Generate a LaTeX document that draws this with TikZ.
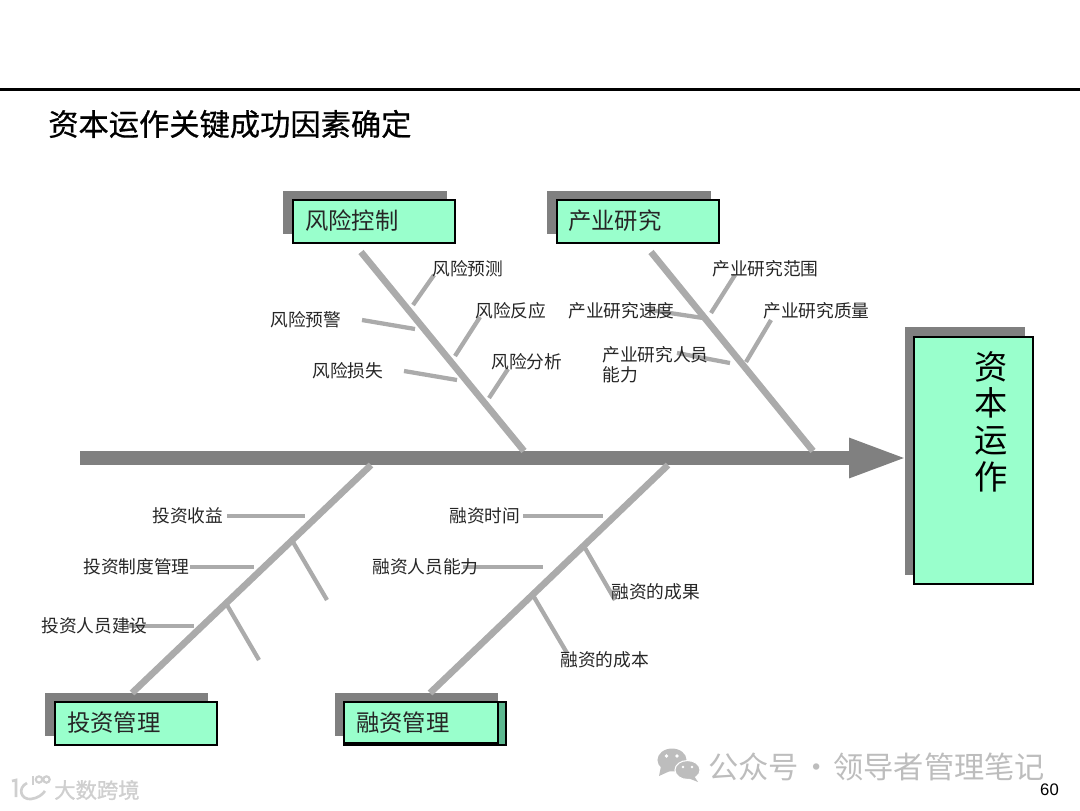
\documentclass[tikz,border=0pt]{standalone}
\usepackage{fontspec}
\setmainfont{Noto Sans CJK SC}
\newfontfamily\numfont{Liberation Sans}
\newfontfamily\titlefont[FakeBold=0.6]{Noto Sans CJK SC}
\newfontfamily\brandfont[FakeBold=1.2]{Noto Sans CJK SC}
\newcommand\tightskip{\setlength{\lineskiplimit}{-20pt}}
\usetikzlibrary{arrows.meta}
\definecolor{boxgreen}{HTML}{99FFCC}
\definecolor{stripgreen}{HTML}{5DB890}
\definecolor{bonegray}{HTML}{ABABAB}
\definecolor{spinegray}{HTML}{808080}
\definecolor{markgray}{HTML}{BDBDBD}
\definecolor{brandgray}{HTML}{CFCFCF}
\tikzset{
  boxshadow/.style={fill=spinegray, inner sep=0pt, outer sep=0pt},
  titlebox/.style={draw=black, line width=0.8pt, fill=boxgreen, inner sep=0pt, outer sep=0pt},
  bone/.style={draw=bonegray, line width=5pt},
  twig/.style={draw=bonegray, line width=3.2pt},
  cause/.style={font=\fontsize{13.3}{15}\selectfont, execute at begin node=\tightskip, inner sep=0pt, text=black!85},
  boxtext/.style={font=\fontsize{17.5}{20}\selectfont, inner sep=0pt, text=black!85},
  marktext/.style={text=markgray, inner sep=0pt},
}
\begin{document}
\begin{tikzpicture}[x=0.75pt, y=-0.75pt]
\useasboundingbox (0,0) rectangle (1080,810);
% header
\coordinate (ruleL) at (0,89.5);
\coordinate (ruleR) at (1080,89.5);
\draw[line width=1.7pt] (ruleL) -- (ruleR);
\node[anchor=west, inner sep=0pt, font=\fontsize{22.7}{26}\titlefont] (title) at (48,124) {资本运作关键成功因素确定};
% head of the fish
\node[boxshadow, minimum width=90pt, minimum height=186pt] (capshadow) at (965,451) {};
\node[titlebox, minimum width=89.25pt, minimum height=185.25pt] (capital) at (973.5,460.5) {};
\node[font=\fontsize{25}{27.5}\selectfont, execute at begin node=\tightskip, align=center, inner sep=0pt, anchor=north] (captext) at (991,351) {资\\本\\运\\作};
% spine
\coordinate (spineL) at (80,458);
\draw[spinegray, line width=10.5pt, -{Triangle[length=44pt, width=27pt]}] (spineL) -- ([xshift=2pt]capshadow.west |- spineL);
% category boxes
\node[boxshadow, minimum width=123pt, minimum height=32.25pt] (riskshadow) at (365,212.5) {};
\node[titlebox, minimum width=121.5pt, minimum height=32.25pt] (risk) at (374,221.5) {};
\node[boxtext, anchor=west] (risktext) at (305,221) {风险控制};
\node[boxshadow, minimum width=123pt, minimum height=32.25pt] (indshadow) at (629,212.5) {};
\node[titlebox, minimum width=121.5pt, minimum height=32.25pt] (ind) at (638,221.5) {};
\node[boxtext, anchor=west] (indtext) at (568,221) {产业研究};
\node[boxshadow, minimum width=122.25pt, minimum height=32.25pt] (invshadow) at (126.5,714.5) {};
\node[titlebox, minimum width=121.5pt, minimum height=32.25pt] (inv) at (136,723.5) {};
\node[boxtext, anchor=west] (invtext) at (67,723) {投资管理};
\node[boxshadow, minimum width=122.25pt, minimum height=32.25pt] (finshadow) at (416.5,714.5) {};
\node[titlebox, fill=stripgreen, minimum width=121.5pt, minimum height=32.25pt] (finback) at (425,723.5) {};
\node[titlebox, minimum width=115.5pt, minimum height=30.75pt] (fin) at (421,722.5) {};
\node[boxtext, anchor=west] (fintext) at (356,723) {融资管理};
% main bones
\coordinate (riskA) at (361,252);
\coordinate (riskB) at (524,451);
\coordinate (indA) at (651,252);
\coordinate (indB) at (813,451);
\coordinate (invA) at (371,465);
\coordinate (invB) at (132,693);
\coordinate (finA) at (668,465);
\coordinate (finB) at (430,693);
\foreach \a/\b in {riskA/riskB, indA/indB, invA/invB, finA/finB}
  \draw[bone] (\a) -- (\b);
% twig ends
\coordinate (r1a) at (413,305); \coordinate (r1b) at (434,275);
\coordinate (r2a) at (362,320); \coordinate (r2b) at (415,329);
\coordinate (r3a) at (455,356); \coordinate (r3b) at (480,317);
\coordinate (r4a) at (404,371); \coordinate (r4b) at (457,380);
\coordinate (r5a) at (489,398); \coordinate (r5b) at (508,369);
\coordinate (i1a) at (711,313); \coordinate (i1b) at (735,275);
\coordinate (i2a) at (650,310); \coordinate (i2b) at (703,318);
\coordinate (i3a) at (746,362); \coordinate (i3b) at (771,320);
\coordinate (i4a) at (677,353); \coordinate (i4b) at (730,363);
\coordinate (v1a) at (227,516); \coordinate (v1b) at (305,516);
\coordinate (v2a) at (190,567); \coordinate (v2b) at (254,567);
\coordinate (v3a) at (127,626); \coordinate (v3b) at (194,626);
\coordinate (v4a) at (293,542); \coordinate (v4b) at (327,600);
\coordinate (v5a) at (227,605); \coordinate (v5b) at (259,660);
\coordinate (f1a) at (523,516); \coordinate (f1b) at (603,516);
\coordinate (f2a) at (463,567); \coordinate (f2b) at (543,567);
\coordinate (f3a) at (585,548); \coordinate (f3b) at (615,600);
\coordinate (f4a) at (534,597); \coordinate (f4b) at (567,653);
\foreach \t in {r1,r2,r3,r4,r5,i1,i2,i3,i4,v1,v2,v3,v4,v5,f1,f2,f3,f4}
  \draw[twig] (\t a) -- (\t b);
% causes
\node[cause, anchor=west] (r1) at (432,269) {风险预测};
\node[cause, anchor=west] (r2) at (270,320) {风险预警};
\node[cause, anchor=west] (r3) at (475,311) {风险反应};
\node[cause, anchor=west] (r4) at (312,371) {风险损失};
\node[cause, anchor=west] (r5) at (491,362) {风险分析};
\node[cause, anchor=west] (i1) at (712,269) {产业研究范围};
\node[cause, anchor=west] (i2) at (568,311) {产业研究速度};
\node[cause, anchor=west] (i3) at (763,311) {产业研究质量};
\node[cause, anchor=north west, align=left] (i4) at (602,346) {产业研究人员\\能力};
\node[cause, anchor=west] (v1) at (152,516) {投资收益};
\node[cause, anchor=west] (v2) at (83,567) {投资制度管理};
\node[cause, anchor=west] (v3) at (41,626) {投资人员建设};
\node[cause, anchor=west] (f1) at (449,516) {融资时间};
\node[cause, anchor=west] (f2) at (372,567) {融资人员能力};
\node[cause, anchor=west] (f3) at (611,592) {融资的成果};
\node[cause, anchor=west] (f4) at (560,660) {融资的成本};
% page number
\node[font=\fontsize{12.5}{14}\numfont, inner sep=0pt] (page) at (1049.5,790) {60};
% watermarks
\node[marktext, anchor=west, font=\fontsize{22.7}{26}\selectfont] (mark) at (708,767) {公众号\hspace{1.5pt}·\hspace{1.5pt}领导者管理笔记};
\fill[markgray] (672,760) ellipse (10.9pt and 8.6pt);
\fill[markgray] (661,766) -- (659,776) -- (670,771) -- cycle;
\fill[white] (666.5,756) circle (1.4pt) (677,756) circle (1.4pt);
\draw[fill=markgray, draw=white, line width=0.8pt] (687.5,770) ellipse (9.4pt and 7.1pt);
\fill[markgray] (694,776) -- (698,782) -- (688,778) -- cycle;
\fill[white] (683,767) circle (1.1pt) (692,767) circle (1.1pt);
\node[anchor=west, inner sep=0pt, text=brandgray, font=\fontsize{16}{18}\brandfont] (brand) at (54,790) {大数跨境};
\draw[brandgray, line width=2pt] (12,781) -- (16,780) -- (16,797);
\draw[brandgray, line width=2pt] (27,783) .. controls (17,788) and (21,800) .. (31,799) .. controls (38,798) and (42,795) .. (45,791);
\draw[brandgray, line width=1.6pt] (33,776) -- (33,785);
\draw[brandgray, line width=1.6pt] (39,779.5) circle (2.4pt) (46.5,779.5) circle (2.4pt);
\end{tikzpicture}
\end{document}
